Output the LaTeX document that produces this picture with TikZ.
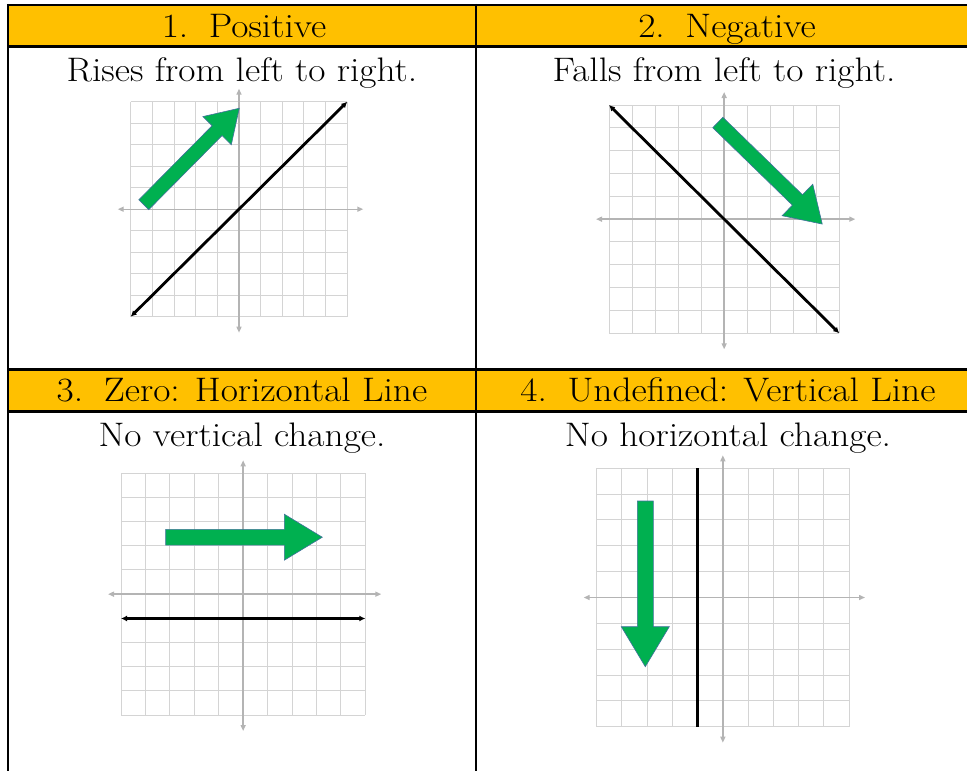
\documentclass[tikz,border=0pt]{standalone}
\usetikzlibrary{arrows.meta}
\definecolor{hdr}{HTML}{FFC000}
\definecolor{grn}{HTML}{00B050}
\definecolor{grnedge}{HTML}{41719C}
\definecolor{gridc}{HTML}{D4D4D4}
\definecolor{axisc}{HTML}{B4B4B4}
\newcommand\panelgrid[4]{%
  \begin{scope}[shift={(#1,-#2)}, x=#3pt, y=-#4pt]
    \foreach \i in {0,...,10} {
      \draw[gridline] (\i,0) -- (\i,10);
      \draw[gridline] (0,\i) -- (10,\i);
    }
    \draw[axisline] ([xshift=-13pt]0,5) -- ([xshift=16pt]10,5);
    \draw[axisline] ([yshift=13pt]5,0) -- ([yshift=-16pt]5,10);
  \end{scope}}
\newcommand\blockarrow[7]{%
  \begin{scope}[shift={(#1,-#2)}, rotate=#3]
    \filldraw[greenarrow] (0,-#5/2) -- (#4-#7,-#5/2) -- (#4-#7,-#6/2) -- (#4,0)
      -- (#4-#7,#6/2) -- (#4-#7,#5/2) -- (0,#5/2) -- cycle;
  \end{scope}}
\begin{document}
\begin{tikzpicture}[x=1pt,y=1pt,
  border/.style={line width=2.4pt, black},
  gridline/.style={line width=1pt, gridc},
  axisline/.style={line width=1.4pt, axisc, {Triangle[length=6pt,width=5pt]}-{Triangle[length=6pt,width=5pt]}},
  graphline/.style={line width=2.8pt, black, {Latex[length=6pt,width=6pt]}-{Latex[length=6pt,width=6pt]}},
  vline/.style={line width=3.2pt, black},
  greenarrow/.style={fill=grn, draw=grnedge, line width=0.6pt},
  hdrtext/.style={anchor=base, inner sep=0pt, xscale=1.1, font=\fontsize{34}{40}\selectfont},
  bodytext/.style={anchor=base, inner sep=0pt, xscale=1.1, font=\fontsize{34}{40}\selectfont}]
\useasboundingbox (0,0) rectangle (967,-771);
\clip (0,0) rectangle (967,-771);
% header bands
\fill[hdr] (8,-5) rectangle (990,-46.5);
\fill[hdr] (8,-369.5) rectangle (990,-411.5);
% table rules
\draw[border] (6.8,-5) -- (990,-5);
\draw[border] (8,-46.5) -- (990,-46.5);
\draw[border] (8,-369.5) -- (990,-369.5);
\draw[border] (8,-411.5) -- (990,-411.5);
\draw[border] (8,-3.8) -- (8,-780);
\draw[border] (476,-3.8) -- (476,-780);
% texts
\node[hdrtext] (h1) at (244,-37) {1.\hspace{0.55em}Positive};
\node[hdrtext] (h2) at (727,-37) {2.\hspace{0.55em}Negative};
\node[hdrtext] (h3) at (242,-401) {3.\hspace{0.55em}Zero: Horizontal Line};
\node[hdrtext] (h4) at (728,-401) {4.\hspace{0.55em}Undefined: Vertical Line};
\node[bodytext] (t1) at (242,-81) {Rises from left to right.};
\node[bodytext] (t2) at (724,-81) {Falls from left to right.};
\node[bodytext] (t3) at (242,-446) {No vertical change.};
\node[bodytext] (t4) at (728,-446) {No horizontal change.};
% grids
\panelgrid{130.7}{101.7}{21.66}{21.5}
\panelgrid{609}{105}{23.03}{22.83}
\panelgrid{121}{473.3}{24.43}{24.17}
\panelgrid{596.7}{468.3}{25.23}{25.84}
% graph lines
\coordinate (a1) at (130.7,-316.7);
\coordinate (b1) at (347.3,-101.7);
\draw[graphline] (a1) -- (b1);
\coordinate (a2) at (609,-105);
\coordinate (b2) at (839.3,-333.3);
\draw[graphline] (a2) -- (b2);
\coordinate (a3) at (121,-618.5);
\coordinate (b3) at (365.3,-618.5);
\draw[graphline] (a3) -- (b3);
\coordinate (a4) at (697.6,-468.3);
\coordinate (b4) at (697.6,-726.7);
\draw[vline] (a4) -- (b4);
% green arrows
\blockarrow{143.8}{204.7}{45.3}{135.7}{14}{40}{31.5}
\blockarrow{717.8}{122.5}{-44.2}{145.7}{14.5}{44}{34.6}
\blockarrow{165.7}{537.2}{0}{156.6}{15.7}{46}{38}
\blockarrow{645.3}{501}{-90}{165.7}{16}{48}{40}
\end{tikzpicture}
\end{document}
